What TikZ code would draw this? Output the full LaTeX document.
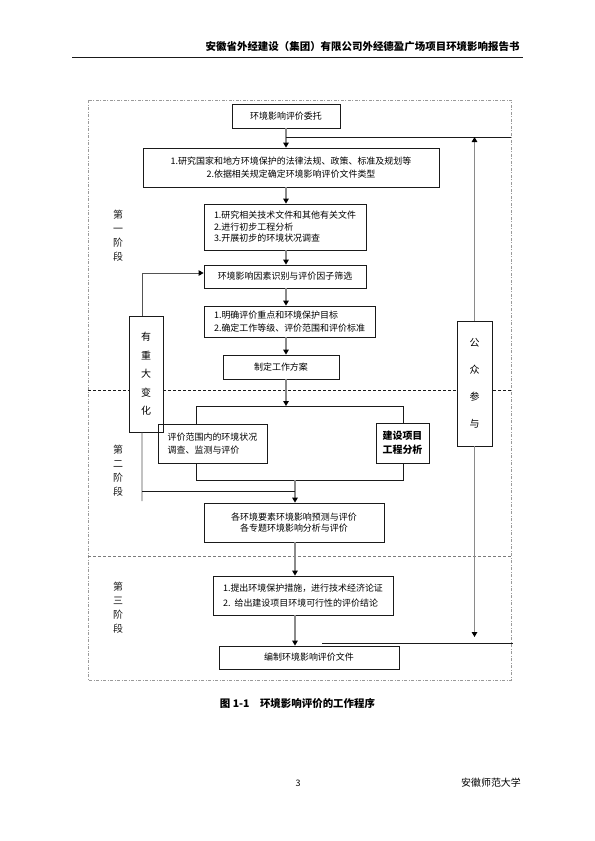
\documentclass[tikz,border=0pt]{standalone}
\usepackage{fontspec}
\setmainfont{Noto Sans CJK SC}
\usepackage{tikz}
\usetikzlibrary{arrows.meta, positioning, calc}
\definecolor{flowgray}{HTML}{8A8A8A}
\definecolor{framegray}{HTML}{9A9A9A}
\definecolor{inkblack}{HTML}{1A1A1A}
\tikzstyle{stepbox} = [rectangle, draw=inkblack, line width=0.8bp, inner sep=0pt, align=center, font=\fontsize{9}{12.5}\selectfont]
\tikzstyle{listbox} = [stepbox, align=left]
\tikzstyle{sidebox} = [rectangle, draw=inkblack, line width=0.8bp, fill=white, inner sep=0pt, align=center]
\tikzstyle{stage} = [align=center, font=\fontsize{10}{14}\selectfont, text=inkblack]
\tikzstyle{arrow} = [draw=flowgray, line width=1.8bp, -{Triangle[length=5bp, width=5.5bp, color=black]}]
\tikzstyle{link} = [draw=inkblack, line width=0.8bp]
\tikzstyle{loopline} = [draw=inkblack!75, line width=0.9bp]

\begin{document}
\begin{tikzpicture}[x=1bp, y=-1bp]
    \useasboundingbox (0,0) rectangle (595,841);
    % page header
    \node[anchor=east, font=\fontsize{10.5}{12}\selectfont\bfseries] (head) at (523,47) {安徽省外经建设（集团）有限公司外经德盈广场项目环境影响报告书};
    \coordinate (ruleL) at (72,57);
    \coordinate (ruleR) at (523,57);
    \draw[link] (ruleL) -- (ruleR);

    % frame and stage separators
    \draw[framegray, line width=0.8bp, dash pattern=on 3bp off 1.5bp on 1bp off 1.5bp] (88,100) rectangle (511,680);
    \draw[inkblack, line width=0.7bp, dash pattern=on 3bp off 2bp] (88,390) -- (511,390);
    \draw[framegray!80!black, line width=0.7bp, dash pattern=on 3bp off 2bp] (88,556) -- (511,556);

    % side boxes
    \node[sidebox, minimum width=34bp, minimum height=116bp, font=\fontsize{10}{18.5}\selectfont] (change) at (146,374) {有\\重\\大\\变\\化};
    \node[sidebox, minimum width=35bp, minimum height=125bp, font=\fontsize{10}{27}\selectfont] (public) at (474.5,383.5) {公\\众\\参\\与};

    % main steps
    \node[stepbox, minimum width=108bp, minimum height=24bp] (entrust) at (286,116) {环境影响评价委托};
    \node[stepbox, minimum width=296bp, minimum height=39bp] (laws) at (291,167.5) {1.研究国家和地方环境保护的法律法规、政策、标准及规划等\\2.依据相关规定确定环境影响评价文件类型};
    \node[listbox, minimum width=162bp, minimum height=46bp, font=\fontsize{9}{11.5}\selectfont] (prelim) at (285,227) {1.研究相关技术文件和其他有关文件\\2.进行初步工程分析\\3.开展初步的环境状况调查};
    \node[stepbox, minimum width=162bp, minimum height=23bp] (factor) at (285,276.5) {环境影响因素识别与评价因子筛选};
    \node[listbox, minimum width=171bp, minimum height=31bp] (focus) at (289.5,321.5) {1.明确评价重点和环境保护目标\\2.确定工作等级、评价范围和评价标准};
    \node[stepbox, minimum width=116bp, minimum height=24bp] (plan) at (281,367) {制定工作方案};
    \node[listbox, minimum width=109bp, minimum height=39bp] (survey) at (212.5,443.5) {评价范围内的环境状况\\调查、监测与评价};
    \node[listbox, minimum width=53bp, minimum height=40bp, font=\fontsize{10}{14}\selectfont\bfseries] (projana) at (402.5,443) {建设项目\\工程分析};
    \node[stepbox, minimum width=180bp, minimum height=39bp, font=\fontsize{9}{11.5}\selectfont] (predict) at (294,522.5) {各环境要素环境影响预测与评价\\各专题环境影响分析与评价};
    \node[listbox, minimum width=180bp, minimum height=39bp, font=\fontsize{9}{15}\selectfont] (measure) at (303,595.5) {1.提出环境保护措施，进行技术经济论证\\2.\ \ 给出建设项目环境可行性的评价结论};
    \node[stepbox, minimum width=180bp, minimum height=23bp] (report) at (309,657.5) {编制环境影响评价文件};

    % stage labels
    \node[stage] (stageA) at (118,236) {第\\一\\阶\\段};
    \node[stage] (stageB) at (118,470.5) {第\\二\\阶\\段};
    \node[stage] (stageC) at (118,607.5) {第\\三\\阶\\段};

    % main flow
    \coordinate (trunk) at (286,137);
    \coordinate (fbR) at (511,137);
    \draw[arrow] (entrust.south) -- (entrust.south |- laws.north);
    \draw[link] (trunk) -- (fbR);
    \draw[arrow] (entrust.south |- laws.south) -- (entrust.south |- prelim.north);
    \draw[arrow] (entrust.south |- prelim.south) -- (entrust.south |- factor.north);
    \draw[arrow] (entrust.south |- factor.south) -- (entrust.south |- focus.north);
    \draw[arrow] (entrust.south |- focus.south) -- (entrust.south |- plan.north);

    % bracket round survey and project analysis
    \coordinate (brTL) at (196,406);
    \coordinate (brTR) at (403,406);
    \coordinate (brBL) at (196,480);
    \coordinate (brBR) at (403,480);
    \draw[arrow] (entrust.south |- plan.south) -- (entrust.south |- brTL);
    \draw[link] (survey.north -| brTL) -- (brTL) -- (brTR) -- (projana.north -| brTR);
    \draw[link] (survey.south -| brBL) -- (brBL) -- (brBR) -- (projana.south -| brBR);
    \draw[arrow] ([xshift=1bp]predict.north |- brBL) -- ([xshift=1bp]predict.north);
    \draw[arrow] ([xshift=1bp]predict.south) -- ([xshift=1bp]predict.south |- measure.north);
    \draw[arrow] ([xshift=1bp]predict.south |- measure.south) -- ([xshift=1bp]predict.south |- report.north);

    % major change loop
    \draw[loopline, -{Triangle[length=5bp, width=5.5bp, color=black]}] ([xshift=-4bp]change.north) |- ([yshift=3.5bp]factor.west);
    \coordinate (chgEnd) at (142,501);
    \coordinate (merge) at (295,491);
    \draw[loopline] ([xshift=-4bp]change.south) -- (chgEnd);
    \draw[link] (merge -| chgEnd) -- (merge);

    % public participation
    \coordinate (pubL) at (322,643);
    \coordinate (pubR) at (513,643);
    \draw[arrow] (public.north) -- (public.north |- fbR);
    \draw[arrow] (public.south) -- ([yshift=6bp]public.south |- pubL);
    \draw[link] (pubL) -- (pubR);

    % caption and footer
    \node[font=\fontsize{10.5}{12}\selectfont\bfseries] (caption) at (297.5,704) {图 1-1\quad 环境影响评价的工作程序};
    \node[font=\fontsize{9}{11}\selectfont] (pageno) at (298,783) {3};
    \node[font=\fontsize{10}{12}\selectfont] (school) at (491,783) {安徽师范大学};
\end{tikzpicture}
\end{document}
